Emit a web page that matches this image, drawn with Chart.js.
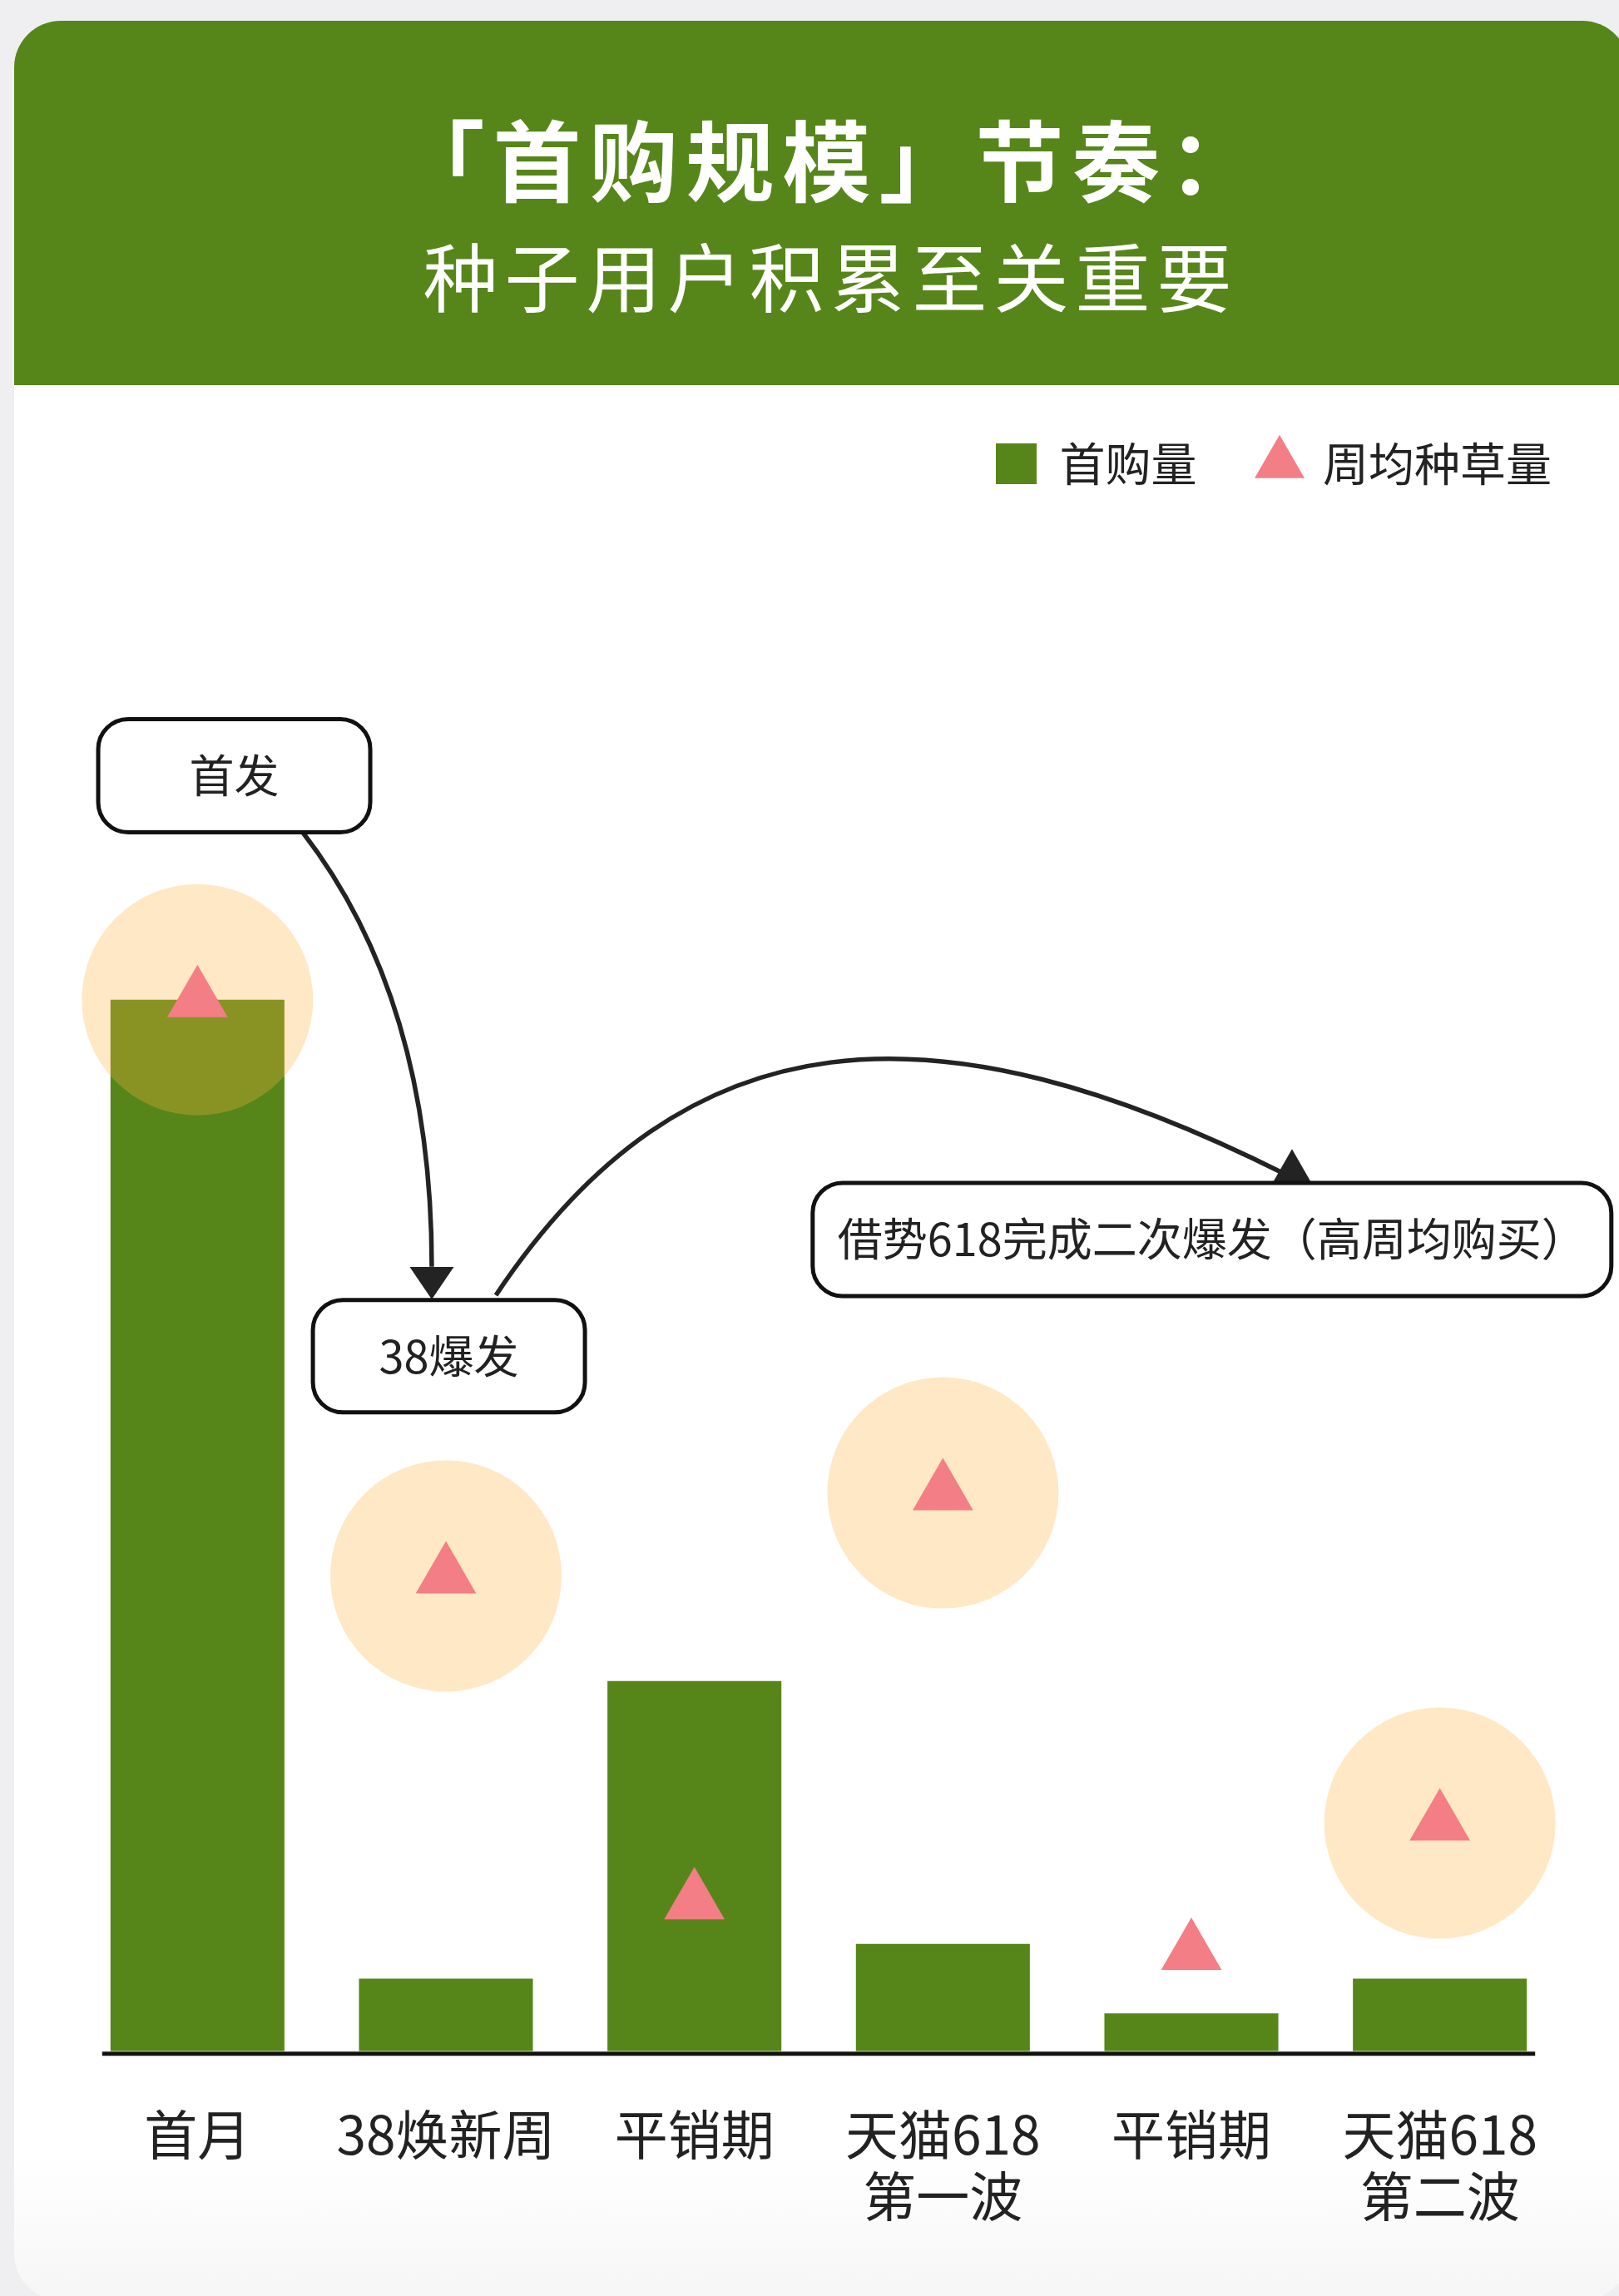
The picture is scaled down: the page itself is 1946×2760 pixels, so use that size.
<!DOCTYPE html>
<html lang="zh-CN">
<head>
<meta charset="utf-8">
<title>首购规模节奏</title>
<script src="https://cdn.jsdelivr.net/npm/chart.js@4.4.1/dist/chart.umd.min.js"></script>
<style>
    html, body { margin: 0; padding: 0; }
    body {
        position: relative; width: 1946px; height: 2760px; overflow: hidden;
        background: #efeff1; font-family: "Noto Sans CJK SC", sans-serif;
    }
    .card {
        position: absolute; left: 17px; top: 25px; width: 1941px; height: 2740px;
        border-radius: 56px; overflow: hidden;
        background: linear-gradient(to bottom, #fff 0, #fff 2560px, #f6f6f7 2740px);
    }
    .head { position: relative; height: 438px; background: #568619; color: #fff; text-align: center; }
    .head div { position: absolute; left: 22px; right: 0; white-space: nowrap; }
    .head .t1 { top: 101px; font-size: 106px; line-height: 124px; font-weight: 700; letter-spacing: 10px; }
    .head .t2 { top: 249px; font-size: 90px; line-height: 110px; letter-spacing: 8px; }
    #chart { position: absolute; left: 0; top: 0; }
</style>
</head>
<body>
<div class="card">
    <div class="head">
        <div class="t1">「首购规模」节奏：</div>
        <div class="t2">种子用户积累至关重要</div>
    </div>
</div>
<canvas id="chart" width="1946" height="2760"></canvas>

<script>
// periods on the x axis
const categories = [['首月'], ['38焕新周'], ['平销期'], ['天猫618', '第一波'], ['平销期'], ['天猫618', '第二波']];
// 首购量 (bars)
const firstPurchase = [100, 6.9, 35.2, 10.2, 3.6, 6.9];
// 周均种草量 (triangles)
const weeklySeeding = [100, 45.2, 14.2, 53.1, 9.4, 21.7];
// periods whose 种草量 gets a halo
const highlighted = [true, true, false, true, false, true];

const green = '#568619', pink = '#f37e85', halo = 'rgba(255, 178, 64, 0.3)';

// callout boxes, anchored in axis units [category, value]
const callouts = [
    {text: '首发', at: [0.148, 121.3], w: 327, h: 136},
    {text: '38爆发', at: [1.012, 66.1], w: 327, h: 135},
    {text: '借势618完成二次爆发（高周均购买）', at: [4.083, 77.2], w: 960, h: 136}
];
// connector curves: cubic path + arrow head (dir 1 = points down, -1 = points up)
const arrows = [
    {path: [[0.421, 116.0], [0.769, 105.4], [0.943, 91.6], [0.943, 74.6]], tip: [0.943, 71.5], headW: 53, headH: 39, dir: 1},
    {path: [[1.201, 71.9], [1.964, 98.9], [2.972, 100.1], [4.378, 83.4]], tip: [4.405, 85.8], headW: 47, headH: 41, dir: -1}
];

Chart.defaults.font.family = '"Noto Sans CJK SC", "Noto Sans", sans-serif';
Chart.defaults.color = '#222';

const baseline = {
    id: 'baseline',
    afterDatasetsDraw(chart) {
        const bars = chart.getDatasetMeta(0).data;
        const first = bars[0], last = bars[bars.length - 1];
        const y = chart.scales.y.getPixelForValue(0) + 3;
        const ctx = chart.ctx;
        ctx.save();
        ctx.strokeStyle = '#121212';
        ctx.lineWidth = 5;
        ctx.beginPath();
        ctx.moveTo(first.x - first.width / 2 - 10, y);
        ctx.lineTo(last.x + last.width / 2 + 10, y);
        ctx.stroke();
        ctx.restore();
    }
};

const notes = {
    id: 'notes',
    afterDraw(chart) {
        const {ctx, scales: {x, y}} = chart;
        const px = p => [x.getPixelForValue(p[0]), y.getPixelForValue(p[1])];
        ctx.save();

        arrows.forEach(a => {
            const [p0, p1, p2, p3] = a.path.map(px);
            ctx.strokeStyle = '#232323';
            ctx.lineWidth = 5.5;
            ctx.beginPath();
            ctx.moveTo(p0[0], p0[1]);
            ctx.bezierCurveTo(p1[0], p1[1], p2[0], p2[1], p3[0], p3[1]);
            ctx.stroke();

            const t = px(a.tip);
            ctx.fillStyle = '#232323';
            ctx.beginPath();
            ctx.moveTo(t[0], t[1]);
            ctx.lineTo(t[0] - a.headW / 2, t[1] - a.dir * a.headH);
            ctx.lineTo(t[0] + a.headW / 2, t[1] - a.dir * a.headH);
            ctx.closePath();
            ctx.fill();
        });

        callouts.forEach(c => {
            const [cx, cy] = px(c.at);
            ctx.beginPath();
            ctx.roundRect(cx - c.w / 2, cy - c.h / 2, c.w, c.h, 36);
            ctx.fillStyle = '#fff';
            ctx.fill();
            ctx.lineWidth = 5;
            ctx.strokeStyle = '#111';
            ctx.stroke();
            ctx.fillStyle = '#222';
            ctx.font = '54px "Noto Sans CJK SC", sans-serif';
            ctx.textAlign = 'center';
            ctx.textBaseline = 'middle';
            ctx.fillText(c.text, cx, cy);
        });
        ctx.restore();
    }
};

new Chart(document.getElementById('chart'), {
    data: {
        labels: categories,
        datasets: [
            {
                type: 'bar', label: '首购量', data: firstPurchase,
                backgroundColor: green, pointStyle: 'rect',
                barPercentage: 0.7, categoryPercentage: 1, order: 3
            },
            {
                type: 'line', label: '周均种草量', data: weeklySeeding,
                showLine: false, pointStyle: 'triangle', pointRadius: 42, pointHoverRadius: 42,
                pointBackgroundColor: pink, backgroundColor: pink, borderColor: pink,
                pointBorderWidth: 0, borderWidth: 0, order: 1, clip: false
            },
            {
                type: 'line', label: 'halo', data: weeklySeeding.map((v, i) => highlighted[i] ? v : null),
                showLine: false, pointStyle: 'circle', pointRadius: 139, pointHoverRadius: 139,
                pointBackgroundColor: halo, pointBorderWidth: 0, borderWidth: 0, order: 2, clip: false
            }
        ]
    },
    options: {
        responsive: false,
        devicePixelRatio: 1,
        animation: false,
        events: [],
        layout: {autoPadding: false, padding: {left: 88, right: 6, top: 455, bottom: 20}},
        plugins: {
            tooltip: {enabled: false},
            legend: {
                align: 'end',
                labels: {
                    usePointStyle: true, boxWidth: 49, boxHeight: 49, padding: 75,
                    font: {size: 55}, color: '#222',
                    filter: item => item.datasetIndex < 2,
                    sort: (a, b) => a.datasetIndex - b.datasetIndex
                }
            }
        },
        scales: {
            x: {
                offset: true,
                grid: {display: false, drawTicks: false},
                border: {display: false},
                ticks: {font: {size: 64, lineHeight: 1.15}, color: '#222', padding: 63.5, maxRotation: 0, autoSkip: false}
            },
            y: {
                position: 'right', min: 0, max: 148,
                grid: {display: false, drawTicks: false},
                border: {display: false},
                ticks: {display: false},
                afterFit: s => { s.width = 60; }
            }
        }
    },
    plugins: [baseline, notes]
});
</script>
</body>
</html>
